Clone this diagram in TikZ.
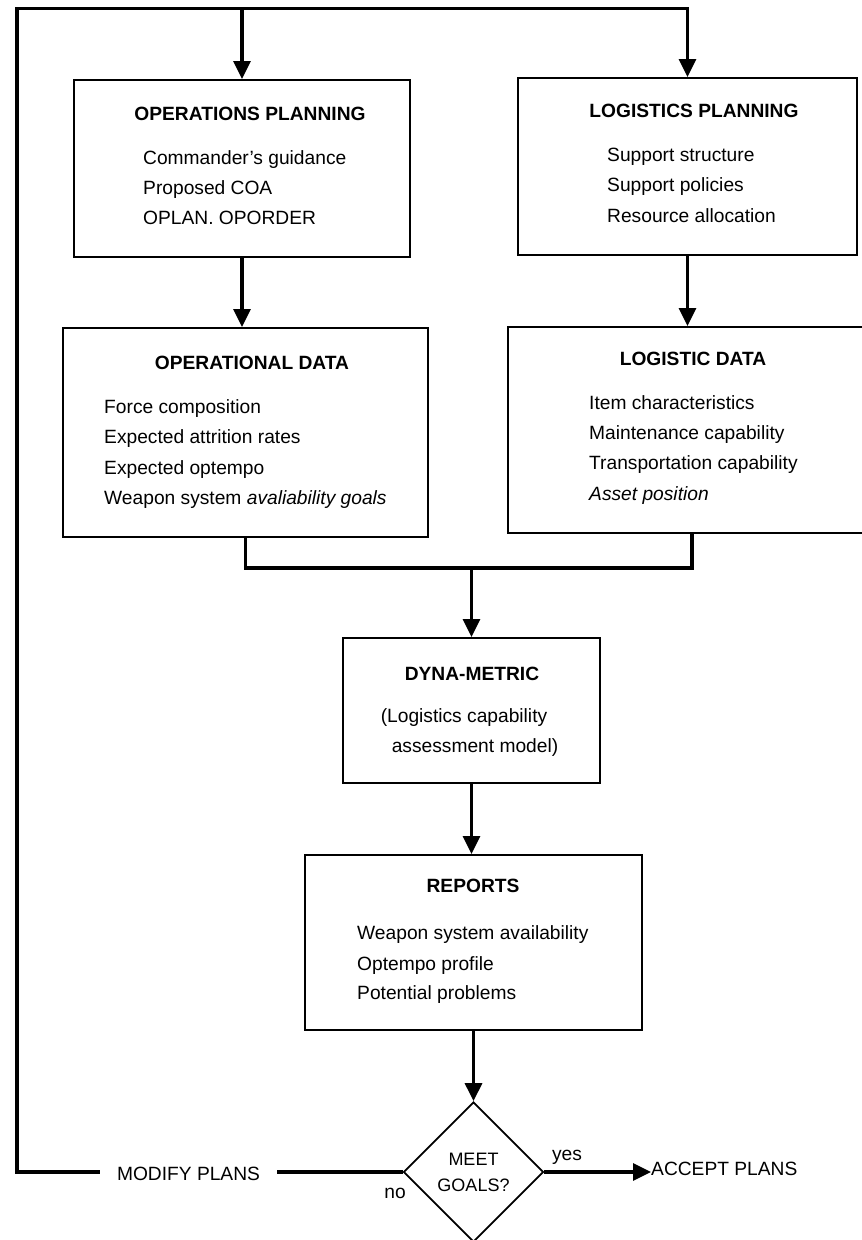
\documentclass[tikz,border=0pt]{standalone}
\usepackage{fontspec}
\setmainfont{Liberation Sans}
\usetikzlibrary{arrows.meta,shapes.geometric}
\tikzset{
  box/.style={draw, line width=2pt, inner sep=0pt},
  txt/.style={font=\fontsize{19.2pt}{30pt}\selectfont, inner sep=0pt, anchor=base west},
  ttl/.style={font=\fontsize{19.2pt}{30pt}\selectfont\bfseries, inner sep=0pt, anchor=base},
  link/.style={line width=3.2pt},
  arr/.style={line width=3.2pt, -{Triangle[width=17pt,length=18pt]}},
}
\begin{document}
\begin{tikzpicture}[x=1pt,y=-1pt]
\path[use as bounding box, fill=white] (0,0) rectangle (862,1240);

% boxes
\node[box, minimum width=336pt, minimum height=177pt] (opp) at (242,168.5) {};
\node[box, minimum width=339pt, minimum height=177pt] (lpp) at (687.5,166.5) {};
\node[box, minimum width=365pt, minimum height=209pt] (opd) at (245.5,432.5) {};
\node[box, minimum width=368pt, minimum height=206pt] (lgd) at (692,430) {};
\node[box, minimum width=257pt, minimum height=145pt] (dyn) at (471.5,710.5) {};
\node[box, minimum width=337pt, minimum height=175pt] (rep) at (473.5,942.5) {};
\node[draw, line width=1.8pt, diamond, minimum width=140pt, minimum height=140pt,
      inner sep=0pt, align=center, font=\fontsize{18pt}{26pt}\selectfont] (dia) at (473.5,1172) {MEET\\GOALS?};

% texts
\node[ttl] (oppT) at (250,120) {OPERATIONS PLANNING};
\node[txt] (opp1) at (143,164) {Commander's guidance};
\node[txt] (opp2) at (143,194) {Proposed COA};
\node[txt] (opp3) at (143,224) {OPLAN. OPORDER};

\node[ttl] (lppT) at (694,117) {LOGISTICS PLANNING};
\node[txt] (lpp1) at (607,161) {Support structure};
\node[txt] (lpp2) at (607,191) {Support policies};
\node[txt] (lpp3) at (607,222) {Resource allocation};

\node[ttl] (opdT) at (252,369) {OPERATIONAL DATA};
\node[txt] (opd1) at (104,413) {Force composition};
\node[txt] (opd2) at (104,443) {Expected attrition rates};
\node[txt] (opd3) at (104,474) {Expected optempo};
\node[txt] (opd4) at (104,504) {Weapon system \textit{avaliability goals}};

\node[ttl] (lgdT) at (693,365) {LOGISTIC DATA};
\node[txt] (lgd1) at (589,409) {Item characteristics};
\node[txt] (lgd2) at (589,439) {Maintenance capability};
\node[txt] (lgd3) at (589,469) {Transportation capability};
\node[txt] (lgd4) at (589,500) {\textit{Asset position}};

\node[ttl] (dynT) at (472,680) {DYNA-METRIC};
\node[txt, anchor=base] (dyn1) at (464,722) {(Logistics capability};
\node[txt, anchor=base] (dyn2) at (475,752) {assessment model)};

\node[ttl] (repT) at (473,892) {REPORTS};
\node[txt] (rep1) at (357,939) {Weapon system availability};
\node[txt] (rep2) at (357,970) {Optempo profile};
\node[txt] (rep3) at (357,999) {Potential problems};

\node[txt, anchor=base, inner xsep=17pt] (mod) at (188.5,1180) {MODIFY PLANS};
\node[txt, anchor=base west] (acc) at (651,1175) {ACCEPT PLANS};
\node[txt, anchor=base] (yes) at (567,1160) {yes};
\node[txt, anchor=base] (no) at (395,1198) {no};

% connectors
\coordinate (lt) at (17,8.5);
\coordinate (jn) at (472,568);

\draw[link] (dia.west) -- (mod.east |- dia.west);
\draw[arr] (mod.west |- dia.west) -- (lt |- dia.west) -- (lt) -| (lpp.north);
\draw[arr] (opp.north |- lt) -- (opp.north);
\draw[arr] (opp.south) -- (opp.south |- opd.north);
\draw[arr] (lpp.south) -- (lpp.south |- lgd.north);
\draw[link] (opd.south) |- (jn) -| (lgd.south);
\draw[arr] (dyn.north |- jn) -- (dyn.north);
\draw[arr] (dyn.south) -- (dyn.south |- rep.north);
\draw[arr] (rep.south) -- (dia.north);
\draw[arr] (dia.east) -- (dia.east -| acc.west);
\end{tikzpicture}
\end{document}
